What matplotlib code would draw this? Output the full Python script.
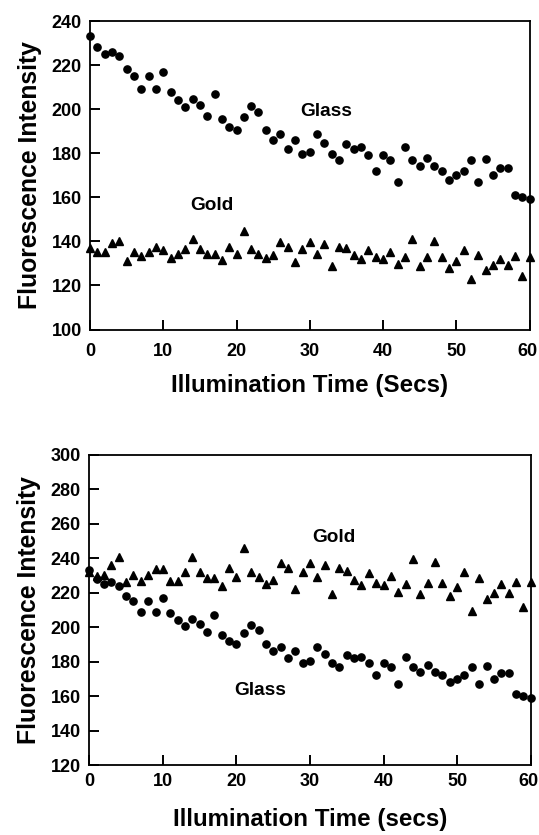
import matplotlib
matplotlib.use("Agg")
import matplotlib.pyplot as plt
import matplotlib.transforms as mtransforms

plt.rcParams['font.family'] = ['Liberation Sans', 'DejaVu Sans']
plt.rcParams['font.weight'] = 'bold'

time_s = list(range(61))

glass = [233, 228, 225, 226, 224, 218, 215, 209, 215, 209,
         217, 208, 204, 201, 204.5, 202, 197, 207, 195.5, 192,
         190.5, 196.5, 201.5, 198.5, 190.5, 186, 188.5, 182, 186, 179.5,
         180.5, 188.5, 184.5, 179.5, 177, 184, 182, 183, 179, 172,
         179, 177, 167, 183, 177, 174, 178, 174, 172, 168,
         170, 172, 177, 167, 177.5, 170, 173.5, 173.5, 161, 160,
         159]

gold_top = [137, 135, 135, 139.4, 140.3, 131, 135, 133.2, 135, 137.3,
            136.2, 132.4, 134.1, 136.4, 141.2, 136.4, 134.2, 134.2, 131.4, 137.6,
            134.4, 144.5, 136.5, 134.4, 132.6, 133.6, 139.7, 137.4, 130.6, 136.7,
            139.7, 134.4, 138.6, 128.8, 137.4, 137, 133.6, 131.8, 135.9, 132.7,
            131.8, 135.1, 129.5, 132.9, 140.9, 128.8, 132.9, 140.1, 132.9, 127.9,
            130.9, 135.9, 123, 134, 127.1, 129.1, 132.1, 129.1, 133.2, 124.1,
            132.9]

gold_bottom = [232, 229.6, 230.5, 236.3, 240.6, 226, 230.5, 226.7, 230.5, 234,
               234, 227.1, 227.1, 231.9, 240.9, 231.9, 228.8, 228.8, 224, 234.4,
               229, 246, 232.3, 229.4, 225.2, 227.5, 237.3, 234.2, 222.3, 232.1,
               237.1, 229.4, 236.1, 219.4, 234.4, 232.5, 227.7, 224.6, 231.3, 225.6,
               224.6, 230, 220.7, 225.2, 239.6, 219.4, 225.6, 237.7, 225.6, 217.9,
               223.3, 231.9, 209.5, 228.5, 216.1, 219.8, 225.2, 219.8, 226.5, 211.7,
               226.2]

x_ticks = [0, 10, 20, 30, 40, 50, 60]
y_ticks_top = [100, 120, 140, 160, 180, 200, 220, 240]
y_ticks_bottom = [120, 140, 160, 180, 200, 220, 240, 260, 280, 300]

W, H = 539, 835
fig = plt.figure(figsize=(W / 100, H / 100), dpi=100)

def px_axes(l, r, t, b):
    return fig.add_axes([l / W, 1 - b / H, (r - l) / W, (b - t) / H])

ax1 = px_axes(90, 529.5, 21, 329.5)
ax2 = px_axes(89.3, 530.7, 455, 765)

def style(ax, yticks, xlabel, xpad, xlabelpad):
    ax.set_xlim(0, 60)
    ax.set_ylim(yticks[0], yticks[-1])
    ax.set_xticks(x_ticks)
    ax.set_yticks(yticks)
    ax.tick_params(direction='in', length=7, width=1.4, labelsize=13,
                   colors='black')
    ax.tick_params(axis='y', pad=6)
    ax.tick_params(axis='x', pad=xpad)
    for lab in ax.get_xticklabels() + ax.get_yticklabels():
        lab.set_fontweight('bold')
    for s in ax.spines.values():
        s.set_linewidth(1.3)
    ax.set_xlabel(xlabel, fontsize=17.4, fontweight='bold', labelpad=xlabelpad)
    ax.set_ylabel('Fluorescence Intensity', fontsize=17.8, fontweight='bold', labelpad=7)
    # nudge the last x tick label slightly left, as in the reference
    last = ax.get_xticklabels()[-1]
    last.set_transform(last.get_transform() +
                       mtransforms.ScaledTranslation(-2.5 / 100, 0, fig.dpi_scale_trans))

style(ax1, y_ticks_top, 'Illumination Time (Secs)', 10, 9.5)
style(ax2, y_ticks_bottom, 'Illumination Time (secs)', 6, 13)

ax1.plot(time_s, gold_top, linestyle='none', marker='^', markersize=5.8,
         color='black', clip_on=False)
ax1.plot(time_s, glass, linestyle='none', marker='o', markersize=5.2,
         color='black', clip_on=False)
ax2.plot(time_s, gold_bottom, linestyle='none', marker='^', markersize=5.8,
         color='black', clip_on=False)
ax2.plot(time_s, glass, linestyle='none', marker='o', markersize=5.2,
         color='black', clip_on=False)

ax1.text(32.3, 199, 'Glass', fontsize=13.7, fontweight='bold', ha='center', va='center')
ax1.text(16.6, 156.4, 'Gold', fontsize=13.7, fontweight='bold', ha='center', va='center')
ax2.text(33.2, 252, 'Gold', fontsize=13.7, fontweight='bold', ha='center', va='center')
ax2.text(23.2, 163.5, 'Glass', fontsize=13.7, fontweight='bold', ha='center', va='center')

fig.savefig('out.png', dpi=100)
